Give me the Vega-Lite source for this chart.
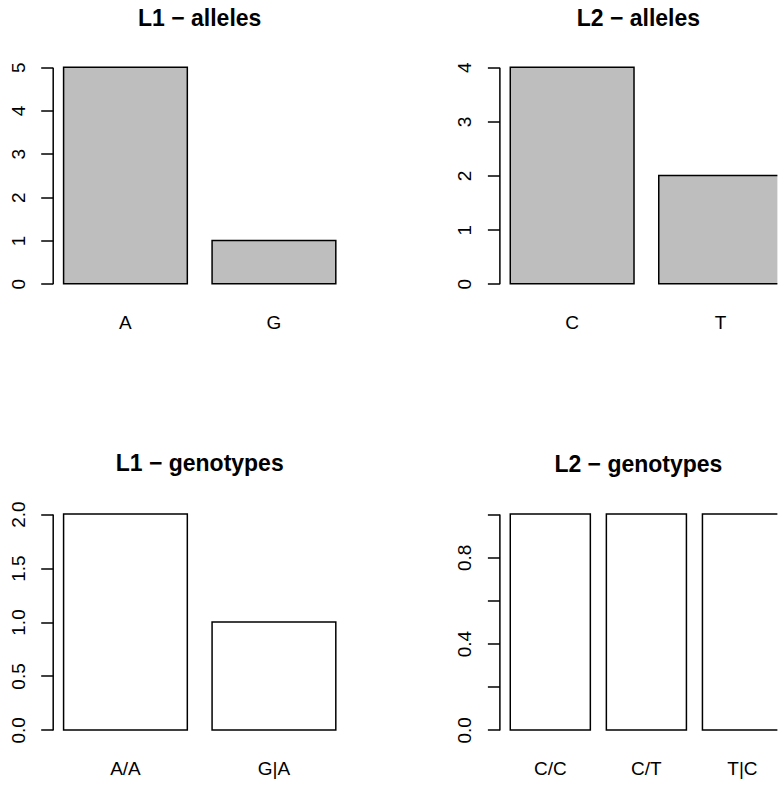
{
  "$schema": "https://vega.github.io/schema/vega-lite/v6.json",
  "background": "white",
  "padding": {"left": 8.7, "top": 7.5, "right": 0, "bottom": 0},
  "config": {
    "view": {"stroke": null},
    "font": "Liberation Sans",
    "title": {"font": "Liberation Sans", "fontSize": 23, "fontWeight": "bold", "color": "#000000", "baseline": "alphabetic", "offset": 28, "anchor": "middle"},
    "axis": {"labelFont": "Liberation Sans", "labelFontSize": 19, "labelColor": "#000000", "grid": false, "title": null}
  },
  "datasets": {
    "l1a": [{"allele": "A", "count": 5}, {"allele": "G", "count": 1}],
    "l2a": [{"allele": "C", "count": 4}, {"allele": "T", "count": 2}],
    "l1g": [{"genotype": "A/A", "count": 2}, {"genotype": "G|A", "count": 1}],
    "l2g": [{"genotype": "C/C", "count": 1}, {"genotype": "C/T", "count": 1}, {"genotype": "T|C", "count": 1}]
  },
  "columns": 2,
  "spacing": {"row": 213, "column": 152.7},
  "bounds": "flush",
  "concat": [
    {
      "title": {"text": "L1 − alleles"},
      "width": 294,
      "height": 234,
      "data": {"name": "l1a"},
      "mark": {"type": "bar", "fill": "#bebebe", "stroke": "#000000", "strokeWidth": 1.5, "clip": true},
      "encoding": {
        "x": {"field": "allele", "type": "nominal", "sort": null,
          "scale": {"paddingInner": 0.1667, "paddingOuter": 0.0733},
          "axis": {"domain": false, "ticks": false, "tickSize": 0, "labelAngle": 0, "labelPadding": 36, "labelBaseline": "alphabetic", "labelAlign": "center"}},
        "y": {"field": "count", "type": "quantitative",
          "scale": {"domain": [0, 5], "range": [225.3, 8.7], "nice": false, "zero": true},
          "axis": {"values": [0, 1, 2, 3, 4, 5], "format": "d", "domain": true, "domainColor": "#000000", "domainWidth": 1.5, "ticks": true, "tickColor": "#000000", "tickWidth": 1.5, "tickSize": 12, "labelAngle": -90, "labelAlign": "center", "labelBaseline": "alphabetic", "labelPadding": 16.5}}
      }
    },
    {
      "title": {"text": "L2 − alleles"},
      "width": 278,
      "height": 234,
      "data": {"name": "l2a"},
      "mark": {"type": "bar", "fill": "#bebebe", "stroke": "#000000", "strokeWidth": 1.5, "clip": true},
      "encoding": {
        "x": {"field": "allele", "type": "nominal", "sort": null,
          "scale": {"paddingInner": 0.1667, "paddingOuter": 0.0733, "range": [0, 294]},
          "axis": {"domain": false, "ticks": false, "tickSize": 0, "labelAngle": 0, "labelPadding": 36, "labelBaseline": "alphabetic", "labelAlign": "center"}},
        "y": {"field": "count", "type": "quantitative",
          "scale": {"domain": [0, 4], "range": [225.3, 8.7], "nice": false, "zero": true},
          "axis": {"values": [0, 1, 2, 3, 4], "format": "d", "domain": true, "domainColor": "#000000", "domainWidth": 1.5, "ticks": true, "tickColor": "#000000", "tickWidth": 1.5, "tickSize": 12, "labelAngle": -90, "labelAlign": "center", "labelBaseline": "alphabetic", "labelPadding": 16.5}}
      }
    },
    {
      "title": {"text": "L1 − genotypes", "offset": 25},
      "width": 294,
      "height": 233,
      "data": {"name": "l1g"},
      "mark": {"type": "bar", "fill": "#ffffff", "stroke": "#000000", "strokeWidth": 1.5, "clip": true},
      "encoding": {
        "x": {"field": "genotype", "type": "nominal", "sort": null,
          "scale": {"paddingInner": 0.1667, "paddingOuter": 0.0733},
          "axis": {"domain": false, "ticks": false, "tickSize": 0, "labelAngle": 0, "labelPadding": 36, "labelBaseline": "alphabetic", "labelAlign": "center"}},
        "y": {"field": "count", "type": "quantitative",
          "scale": {"domain": [0, 2], "range": [224.4, 8.6], "nice": false, "zero": true},
          "axis": {"values": [0, 0.5, 1, 1.5, 2], "format": ".1f", "domain": true, "domainColor": "#000000", "domainWidth": 1.5, "ticks": true, "tickColor": "#000000", "tickWidth": 1.5, "tickSize": 12, "labelAngle": -90, "labelAlign": "center", "labelBaseline": "alphabetic", "labelPadding": 16.5}}
      }
    },
    {
      "title": {"text": "L2 − genotypes"},
      "width": 278,
      "height": 233,
      "data": {"name": "l2g"},
      "mark": {"type": "bar", "fill": "#ffffff", "stroke": "#000000", "strokeWidth": 1.5, "clip": true},
      "encoding": {
        "x": {"field": "genotype", "type": "nominal", "sort": null,
          "scale": {"paddingInner": 0.1667, "paddingOuter": 0.1133, "range": [0, 294]},
          "axis": {"domain": false, "ticks": false, "tickSize": 0, "labelAngle": 0, "labelPadding": 36, "labelBaseline": "alphabetic", "labelAlign": "center"}},
        "y": {"field": "count", "type": "quantitative",
          "scale": {"domain": [0, 1], "range": [224.4, 8.6], "nice": false, "zero": true},
          "axis": {"values": [0, 0.2, 0.4, 0.6, 0.8, 1], "labelExpr": "(round(datum.value * 10) % 4 == 0) ? format(datum.value, '.1f') : ''", "domain": true, "domainColor": "#000000", "domainWidth": 1.5, "ticks": true, "tickColor": "#000000", "tickWidth": 1.5, "tickSize": 12, "labelAngle": -90, "labelAlign": "center", "labelBaseline": "alphabetic", "labelPadding": 16.5}}
      }
    }
  ]
}
